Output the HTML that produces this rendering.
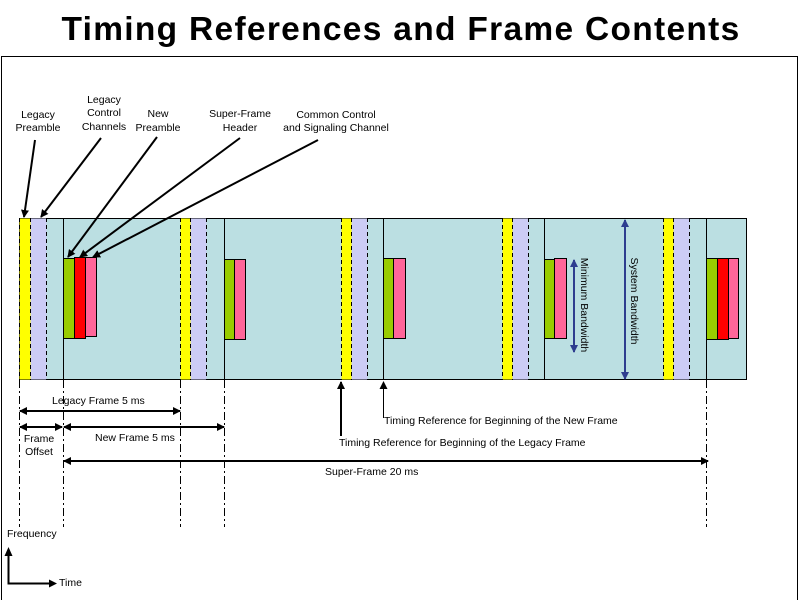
<!DOCTYPE html>
<html><head><meta charset="utf-8"><style>
body{margin:0;background:#fff;}
svg{display:block;font-family:"Liberation Sans",sans-serif;}
</style></head><body>
<svg width="800" height="600" viewBox="0 0 800 600" xmlns="http://www.w3.org/2000/svg">
<defs>
<marker id="ah" markerWidth="8" markerHeight="8" refX="7" refY="4" orient="auto-start-reverse" markerUnits="userSpaceOnUse"><path d="M0,0 L8,4 L0,8 z" fill="#000"/></marker>
<marker id="bh" markerWidth="8" markerHeight="8" refX="7" refY="4" orient="auto-start-reverse" markerUnits="userSpaceOnUse"><path d="M0,0 L8,4 L0,8 z" fill="#2e3d8f"/></marker>
</defs>
<text x="401" y="40" text-anchor="middle" font-size="33.5" font-weight="bold" letter-spacing="1.3">Timing References and Frame Contents</text>
<rect x="1.5" y="56.5" width="796" height="550" fill="none" stroke="#000" stroke-width="1"/>
<rect x="19.5" y="218.5" width="727" height="161" fill="#bbdfe2" stroke="#000"/>
<g stroke="#000">
<rect x="19.5" y="218.5" width="11" height="161" fill="#ffff00" stroke="none"/>
<rect x="30.5" y="218.5" width="16" height="161" fill="#ccccf5" stroke="none"/>
<line x1="19.5" y1="218" x2="19.5" y2="380" stroke-dasharray="4,3"/>
<line x1="30.5" y1="218" x2="30.5" y2="380" stroke-dasharray="4,3"/>
<line x1="46.5" y1="218" x2="46.5" y2="380" stroke-dasharray="4,3"/>
<line x1="63.5" y1="218" x2="63.5" y2="380"/>
<rect x="63.5" y="258.5" width="11" height="80" fill="#99cc00"/>
<rect x="74.5" y="257.5" width="11" height="81" fill="#ff0000"/>
<rect x="85.5" y="257.5" width="11" height="79" fill="#ff6699"/>

<rect x="180.5" y="218.5" width="10" height="161" fill="#ffff00" stroke="none"/>
<rect x="190.5" y="218.5" width="16" height="161" fill="#ccccf5" stroke="none"/>
<line x1="180.5" y1="218" x2="180.5" y2="380" stroke-dasharray="4,3"/>
<line x1="190.5" y1="218" x2="190.5" y2="380" stroke-dasharray="4,3"/>
<line x1="206.5" y1="218" x2="206.5" y2="380" stroke-dasharray="4,3"/>
<line x1="224.5" y1="218" x2="224.5" y2="380"/>
<rect x="224.5" y="259.5" width="10" height="80" fill="#99cc00"/>
<rect x="234.5" y="259.5" width="11" height="80" fill="#ff6699"/>

<rect x="341.5" y="218.5" width="10" height="161" fill="#ffff00" stroke="none"/>
<rect x="351.5" y="218.5" width="16" height="161" fill="#ccccf5" stroke="none"/>
<line x1="341.5" y1="218" x2="341.5" y2="380" stroke-dasharray="4,3"/>
<line x1="351.5" y1="218" x2="351.5" y2="380" stroke-dasharray="4,3"/>
<line x1="367.5" y1="218" x2="367.5" y2="380" stroke-dasharray="4,3"/>
<line x1="383.5" y1="218" x2="383.5" y2="380"/>
<rect x="383.5" y="258.5" width="10" height="80" fill="#99cc00"/>
<rect x="393.5" y="258.5" width="12" height="80" fill="#ff6699"/>

<rect x="502.5" y="218.5" width="10" height="161" fill="#ffff00" stroke="none"/>
<rect x="512.5" y="218.5" width="16" height="161" fill="#ccccf5" stroke="none"/>
<line x1="502.5" y1="218" x2="502.5" y2="380" stroke-dasharray="4,3"/>
<line x1="512.5" y1="218" x2="512.5" y2="380" stroke-dasharray="4,3"/>
<line x1="528.5" y1="218" x2="528.5" y2="380" stroke-dasharray="4,3"/>
<line x1="544.5" y1="218" x2="544.5" y2="380"/>
<rect x="544.5" y="259.5" width="10" height="79" fill="#99cc00"/>
<rect x="554.5" y="258.5" width="12" height="80" fill="#ff6699"/>

<rect x="663.5" y="218.5" width="10" height="161" fill="#ffff00" stroke="none"/>
<rect x="673.5" y="218.5" width="16" height="161" fill="#ccccf5" stroke="none"/>
<line x1="663.5" y1="218" x2="663.5" y2="380" stroke-dasharray="4,3"/>
<line x1="673.5" y1="218" x2="673.5" y2="380" stroke-dasharray="4,3"/>
<line x1="689.5" y1="218" x2="689.5" y2="380" stroke-dasharray="4,3"/>
<line x1="706.5" y1="218" x2="706.5" y2="380"/>
<rect x="706.5" y="258.5" width="11" height="81" fill="#99cc00"/>
<rect x="717.5" y="258.5" width="11" height="81" fill="#ff0000"/>
<rect x="728.5" y="258.5" width="10" height="80" fill="#ff6699"/>
</g>
<g stroke="#000" stroke-dasharray="8,3,2,3">
<line x1="19.5" y1="380" x2="19.5" y2="527"/>
<line x1="63.5" y1="380" x2="63.5" y2="527"/>
<line x1="180.5" y1="380" x2="180.5" y2="527"/>
<line x1="224.5" y1="380" x2="224.5" y2="527"/>
<line x1="706.5" y1="380" x2="706.5" y2="527"/>
</g>
<g stroke="#000" stroke-width="2" marker-end="url(#ah)" marker-start="url(#ah)">
<line x1="20" y1="411" x2="180" y2="411"/>
<line x1="64" y1="427" x2="224" y2="427"/>
<line x1="20" y1="427" x2="62" y2="427"/>
<line x1="64" y1="461" x2="708" y2="461"/>
</g>
<line x1="341" y1="436" x2="341" y2="382" stroke="#000" stroke-width="2" marker-end="url(#ah)"/>
<line x1="383.5" y1="418" x2="383.5" y2="382" stroke="#000" stroke-width="1" marker-end="url(#ah)"/>
<g stroke="#000" stroke-width="2" marker-end="url(#ah)">
<line x1="35" y1="140" x2="24" y2="217"/>
<line x1="101" y1="138" x2="41" y2="217"/>
<line x1="157" y1="137" x2="68" y2="257"/>
<line x1="240" y1="138" x2="80" y2="257"/>
<line x1="318" y1="140" x2="93" y2="257"/>
</g>
<g stroke="#2e3d8f" stroke-width="2" marker-end="url(#bh)" marker-start="url(#bh)">
<line x1="574" y1="260" x2="574" y2="352"/>
<line x1="625" y1="220" x2="625" y2="379"/>
</g>
<g font-size="10.5" fill="#000">
<text transform="translate(581,305) rotate(90)" text-anchor="middle">Minimum Bandwidth</text>
<text transform="translate(631,301) rotate(90)" text-anchor="middle">System Bandwidth</text>
<text x="38" y="118" text-anchor="middle">Legacy</text>
<text x="38" y="131" text-anchor="middle">Preamble</text>
<text x="104" y="103" text-anchor="middle">Legacy</text>
<text x="104" y="116" text-anchor="middle">Control</text>
<text x="104" y="130" text-anchor="middle">Channels</text>
<text x="158" y="117" text-anchor="middle">New</text>
<text x="158" y="131" text-anchor="middle">Preamble</text>
<text x="240" y="117" text-anchor="middle">Super-Frame</text>
<text x="240" y="131" text-anchor="middle">Header</text>
<text x="336" y="118" text-anchor="middle">Common Control</text>
<text x="336" y="131" text-anchor="middle">and Signaling Channel</text>
<text x="52" y="404">Legacy Frame 5 ms</text>
<text x="95" y="441">New Frame 5 ms</text>
<text x="39" y="442" text-anchor="middle">Frame</text>
<text x="39" y="455" text-anchor="middle">Offset</text>
<text x="384" y="424">Timing Reference for Beginning of the New Frame</text>
<text x="339" y="446">Timing Reference for Beginning of the Legacy Frame</text>
<text x="325" y="475">Super-Frame 20 ms</text>
<text x="7" y="537">Frequency</text>
<text x="59" y="586">Time</text>
</g>
<path d="M8.5,555 V583.5 H50" fill="none" stroke="#000" stroke-width="2"/>
<path d="M4.5,556 L8.5,547 L12.5,556 z"/>
<path d="M49,579.5 L57,583.5 L49,587.5 z"/>
</svg>
</body></html>
